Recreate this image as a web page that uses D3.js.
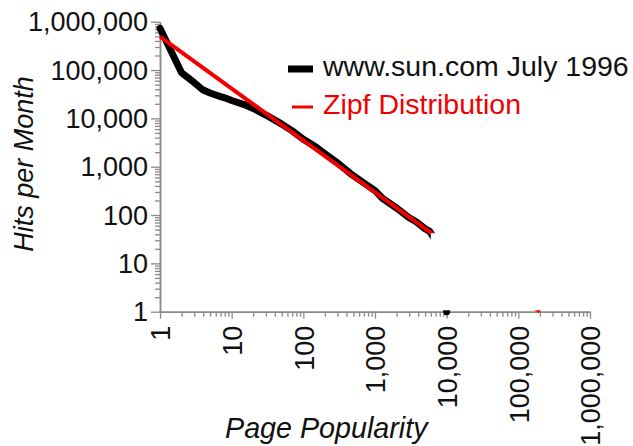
<!DOCTYPE html>
<html>
<head>
<meta charset="utf-8">
<script src="https://cdn.jsdelivr.net/npm/d3@7"></script>
<style>
body { margin: 0; background: #fff; }
svg { display: block; font-family: "Liberation Sans", Arial, Helvetica, sans-serif; }
</style>
</head>
<body>
<svg id="chart"></svg>
<script>
// hits per month against page popularity rank, log-log, with a zipf fit

const ranks = [1, 2, 3, 4, 5, 6, 7, 8, 10, 15, 20, 25, 30, 40, 50, 70, 100, 150, 200, 300, 450, 700, 1000, 1300, 2000, 3000, 3800, 5000, 5800, 7000, 8500, 10000]
const hits = [730000, 88000, 55000, 38500, 33400, 30400, 28200, 26600, 23400, 19300, 16000, 13500, 11700, 9200, 7600, 5500, 3700, 2550, 1850, 1200, 730, 460, 320, 215, 140, 88, 72, 52, 46, 30, 12, 1]

const zipfRanks = [1, 200000]
const zipfHits = [490000, 1]

const xTickValues = [1, 10, 100, 1000, 10000, 100000, 1000000]
const yTickValues = [1, 10, 100, 1000, 10000, 100000, 1000000]

const seriesNames = ["www.sun.com July 1996", "Zipf Distribution"]
const xTitle = "Page Popularity"
const yTitle = "Hits per Month"

// corner of the plot that is blanked out in the original picture
const blankRanks = [6000, 1200000]
const blankHits = [1.07, 42]

const width = 633, height = 446
const margin = ({top: 21.7, right: 43, bottom: 134.3, left: 160})
const axisColor = "#8a8a8a"
const red = "#f20000"

const svg = d3.select("#chart")
  .attr("width", width)
  .attr("height", height)

const x = d3.scaleLog()
  .domain([1, 1000000])
  .range([margin.left, width - margin.right])

const y = d3.scaleLog()
  .domain([1, 1000000])
  .range([height - margin.bottom, margin.top])

// minor ticks 2..9 inside every decade
const minorOf = ticks => ticks.slice(0, -1).flatMap(m => d3.range(2, 10).map(k => k * m))

function styleAxis(g) {
  g.attr("font-family", null).attr("font-size", 27).attr("fill", "#111")
  g.select(".domain").attr("stroke", axisColor).attr("stroke-width", 1.5)
  g.selectAll(".tick line").attr("stroke", axisColor).attr("stroke-width", 1.3)
  g.selectAll(".tick text").attr("fill", "#111")
}

// x axis
svg.append("g")
  .attr("transform", `translate(0,${y(1)})`)
  .call(d3.axisBottom(x).tickValues(minorOf(xTickValues)).tickSize(5).tickSizeOuter(0).tickFormat(""))
  .call(styleAxis)

svg.append("g")
  .attr("transform", `translate(0,${y(1)})`)
  .call(d3.axisBottom(x).tickValues(xTickValues).tickSize(7).tickSizeOuter(0).tickFormat(d3.format(",")))
  .call(styleAxis)
  .call(g => g.selectAll(".tick text")
    .attr("transform", "rotate(-90)")
    .attr("x", -14)
    .attr("y", 0)
    .attr("dy", "0.36em")
    .attr("text-anchor", "end"))

// y axis
svg.append("g")
  .attr("transform", `translate(${x(1)},0)`)
  .call(d3.axisLeft(y).tickValues(minorOf(yTickValues)).tickSize(5).tickSizeOuter(0).tickFormat(""))
  .call(styleAxis)

svg.append("g")
  .attr("transform", `translate(${x(1)},0)`)
  .call(d3.axisLeft(y).tickValues(yTickValues).tickSize(9).tickSizeOuter(0).tickFormat(d3.format(",")))
  .call(styleAxis)
  .call(g => g.selectAll(".tick text").attr("x", -12).attr("dy", "0.34em"))

const line = d3.line()
  .x(d => x(d[0]))
  .y(d => y(d[1]))

svg.append("path")
  .datum(ranks.map((r, i) => [r, hits[i]]))
  .attr("fill", "none")
  .attr("stroke", "#000")
  .attr("stroke-width", 7)
  .attr("stroke-linejoin", "round")
  .attr("stroke-linecap", "round")
  .attr("d", line)

svg.append("path")
  .datum(zipfRanks.map((r, i) => [r, zipfHits[i]]))
  .attr("fill", "none")
  .attr("stroke", red)
  .attr("stroke-width", 4)
  .attr("stroke-linecap", "butt")
  .attr("d", line)

svg.append("rect")
  .attr("x", x(blankRanks[0]))
  .attr("y", y(blankHits[1]))
  .attr("width", x(blankRanks[1]) - x(blankRanks[0]))
  .attr("height", y(blankHits[0]) - y(blankHits[1]))
  .attr("fill", "#fff")

// legend
const legend = svg.append("g")
legend.append("line")
  .attr("x1", 288).attr("x2", 313).attr("y1", 69).attr("y2", 69)
  .attr("stroke", "#000").attr("stroke-width", 7)
legend.append("text")
  .attr("x", 323).attr("y", 76)
  .attr("font-size", 28.5).attr("fill", "#111")
  .text(seriesNames[0])
legend.append("line")
  .attr("x1", 292).attr("x2", 313).attr("y1", 107).attr("y2", 107)
  .attr("stroke", red).attr("stroke-width", 3)
legend.append("text")
  .attr("x", 323).attr("y", 114)
  .attr("font-size", 28.5).attr("fill", red)
  .text(seriesNames[1])

// titles
svg.append("text")
  .attr("x", 225).attr("y", 438)
  .attr("font-size", 28.7).attr("font-style", "italic").attr("fill", "#111")
  .text(xTitle)

svg.append("text")
  .attr("transform", "translate(33,164) rotate(-90)")
  .attr("text-anchor", "middle")
  .attr("font-size", 27).attr("font-style", "italic").attr("fill", "#111")
  .text(yTitle)
</script>
</body>
</html>
